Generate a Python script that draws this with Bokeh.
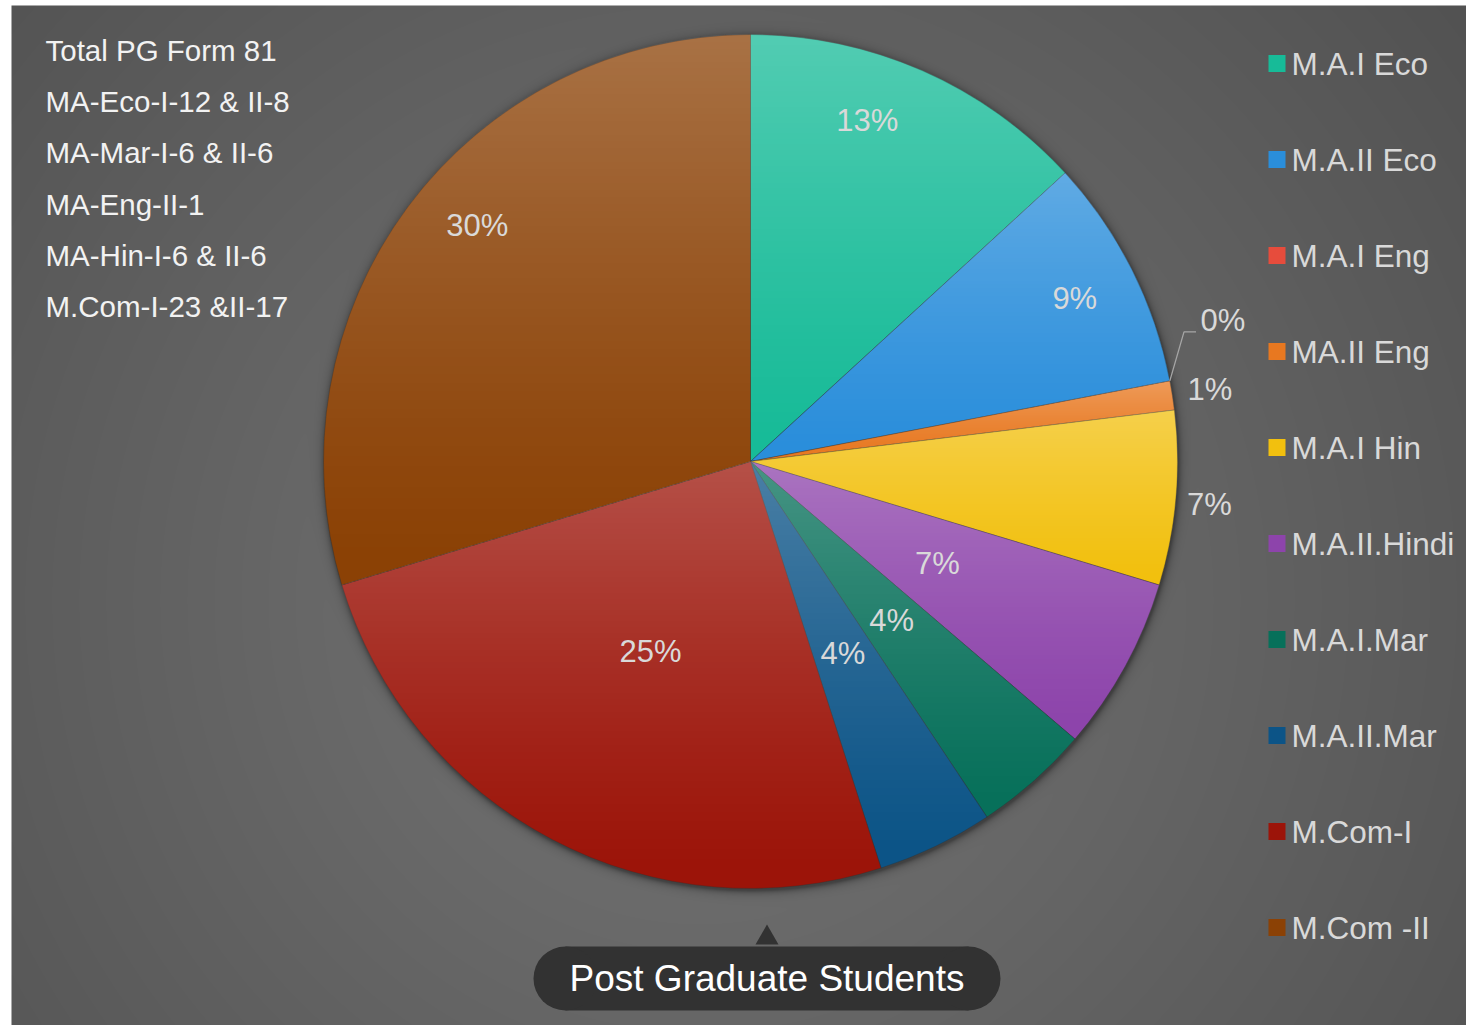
import numpy as np
from bokeh.plotting import figure
from bokeh.models import Range1d
from bokeh.core.properties import value
from bokeh.embed import file_html
from bokeh.resources import INLINE

# ---------------- data ----------------
categories = ["M.A.I Eco", "M.A.II Eco", "M.A.I Eng", "MA.II Eng", "M.A.I Hin",
              "M.A.II.Hindi", "M.A.I.Mar", "M.A.II.Mar", "M.Com-I", "M.Com -II"]
counts = [12, 8, 0, 1, 6, 6, 4, 4, 23, 27]
slice_colors = ["#17bb98", "#2a8edb", "#e74c3c", "#e87820", "#f2c00e",
                "#8d44ab", "#07705a", "#0c5487", "#9c1409", "#8b4105"]
note_lines = ["Total PG Form 81", "MA-Eco-I-12 & II-8", "MA-Mar-I-6 & II-6",
              "MA-Eng-II-1", "MA-Hin-I-6 & II-6", "M.Com-I-23 &II-17"]
title_text = "Post Graduate Students"

# ---------------- layout (style) ----------------
W, H = 1466, 1025
FONT = "Liberation Sans"


def X(px):
    return px


def Y(py):
    return H - py


cx, cy, R = X(750), Y(461), 427
label_radius = [360, 363, 493, 465, 461, 213, 213, 213, 215, 361]
label_shift_deg = [-4.8, 0, -5.7, 0, 0.4, 0, 0, 0, 0, 4.2]

p = figure(width=W, height=H, x_range=Range1d(0, W), y_range=Range1d(0, H),
           output_backend="svg", toolbar_location=None, min_border=0,
           x_axis_location=None, y_axis_location=None)
p.grid.visible = False
p.outline_line_color = None
p.background_fill_color = "white"
p.border_fill_color = "white"

# ---------------- background (radial gradient + pie shadow) ----------------
bx0, btop = 11, 5
bw, bh = W - bx0, H - btop
cols = np.arange(bw) + bx0 + 0.5
rows = np.arange(bh) + 0.5
XX, YY = np.meshgrid(cols, rows)
refX = XX
refY = H - YY
d = np.hypot(refX - 700, refY - 600)
gray = np.clip(118 - 0.037 * d, 78, 130)
ds = np.hypot(XX - cx - 1, YY - (cy - 2))
shadow = np.where(ds > R, 0.38 * np.exp(-(ds - R) / 3.5), 0.38)
gray = gray * (1 - shadow)
bg = np.zeros((bh, bw, 4), dtype=np.uint8)
bg[..., 0] = gray
bg[..., 1] = gray
bg[..., 2] = gray
bg[..., 3] = 255
p.image_rgba(image=[bg.view(np.uint32).reshape(bh, bw)], x=bx0, y=0, dw=bw, dh=bh)

# ---------------- pie ----------------
total = float(sum(counts))
fr = np.array(counts) / total
cum_end = np.cumsum(fr) * 2 * np.pi
cum_start = cum_end - fr * 2 * np.pi
start_angle = np.pi / 2 - cum_end
end_angle = np.pi / 2 - cum_start
nz = [i for i, c in enumerate(counts) if c > 0]
p.wedge(x=cx, y=cy, radius=R,
        start_angle=[start_angle[i] for i in nz],
        end_angle=[end_angle[i] for i in nz],
        fill_color=[slice_colors[i] for i in nz],
        line_color="#303030", line_alpha=0.45, line_width=0.8)

# per-slice vertical light gradient overlay
N = 2 * R + 4
x0, y0 = cx - R - 2, cy - R - 2
gx = x0 + np.arange(N) + 0.5
gy = y0 + np.arange(N) + 0.5
GX, GY = np.meshgrid(gx, gy)
dxs, dys = GX - cx, GY - cy
dist = np.hypot(dxs, dys)
theta = np.mod(np.arctan2(dxs, dys), 2 * np.pi)
idx = np.clip(np.searchsorted(cum_end, theta, side="right"), 0, len(counts) - 1)
ytop = np.zeros(len(counts))
ybot = np.zeros(len(counts))
for i in range(len(counts)):
    a0, a1 = cum_start[i], cum_end[i]
    cand = [cy, cy + R * np.cos(a0), cy + R * np.cos(a1)]
    if a0 <= 0 <= a1 or a1 >= 2 * np.pi - 1e-9:
        cand.append(cy + R)
    if a0 <= np.pi <= a1:
        cand.append(cy - R)
    ytop[i], ybot[i] = max(cand), min(cand)
span = np.maximum(ytop - ybot, 1)
t = np.clip((ytop[idx] - GY) / span[idx], 0, 1)
cov = np.clip(R - dist + 0.5, 0, 1)
alpha = 0.26 * (1 - t) ** 1.3 * cov
ov = np.zeros((N, N, 4), dtype=np.uint8)
ov[..., 0:3] = 255
ov[..., 3] = (alpha * 255).astype(np.uint8)
p.image_rgba(image=[ov.view(np.uint32).reshape(N, N)], x=x0, y=y0, dw=N, dh=N)

# ---------------- data labels ----------------
mid = (cum_start + cum_end) / 2 + np.radians(label_shift_deg)
lx = cx + np.array(label_radius) * np.sin(mid)
ly = cy + np.array(label_radius) * np.cos(mid)
pct = [f"{round(100 * c / total)}%" for c in counts]
p.text(x=lx, y=ly, text=pct, text_font=value(FONT), text_font_size=value("31px"),
       text_color="#d9d9d9", text_align="center", text_baseline="middle")

# leader line for the zero slice
for i, c in enumerate(counts):
    if c == 0:
        ex, ey = cx + R * np.sin(cum_start[i]), cy + R * np.cos(cum_start[i])
        p.line(x=[ex, lx[i] - 39, lx[i] - 27], y=[ey, ly[i] - 11, ly[i] - 11],
               line_color="#a6a6a6", line_width=1.3)

# ---------------- legend ----------------
leg_y = [Y(63 + 96 * i) for i in range(len(categories))]
p.rect(x=[X(1276.5)] * len(categories), y=leg_y, width=17, height=17,
       fill_color=slice_colors, line_color=None)
p.text(x=[X(1291)] * len(categories), y=leg_y, text=categories,
       text_font=value(FONT), text_font_size=value("31.5px"),
       text_color="#d9d9d9", text_align="left", text_baseline="middle")

# ---------------- notes (top left) ----------------
note_y = [Y(50 + 51.2 * i) for i in range(len(note_lines))]
p.text(x=[X(45)] * len(note_lines), y=note_y, text=note_lines,
       text_font=value(FONT), text_font_size=value("29.5px"),
       text_color="#f2f2f2", text_align="left", text_baseline="middle")

# ---------------- title pill ----------------
pill_c, pill_y, pill_h = X(766.5), Y(978), 64
pill_w = 467 - pill_h
p.rect(x=[pill_c], y=[pill_y], width=pill_w, height=pill_h, fill_color="#323232", line_color=None)
p.circle(x=[pill_c - pill_w / 2, pill_c + pill_w / 2], y=[pill_y, pill_y], radius=pill_h / 2,
         fill_color="#323232", line_color=None)
p.scatter(x=[X(766.5)], y=[Y(937.4)], marker="triangle", size=23,
          fill_color="#323232", line_color=None)
p.text(x=[pill_c], y=[pill_y], text=[title_text], text_font=value(FONT),
       text_font_size=value("37px"), text_color="#ffffff",
       text_align="center", text_baseline="middle")

open("out.html", "w").write(file_html(p, INLINE))
